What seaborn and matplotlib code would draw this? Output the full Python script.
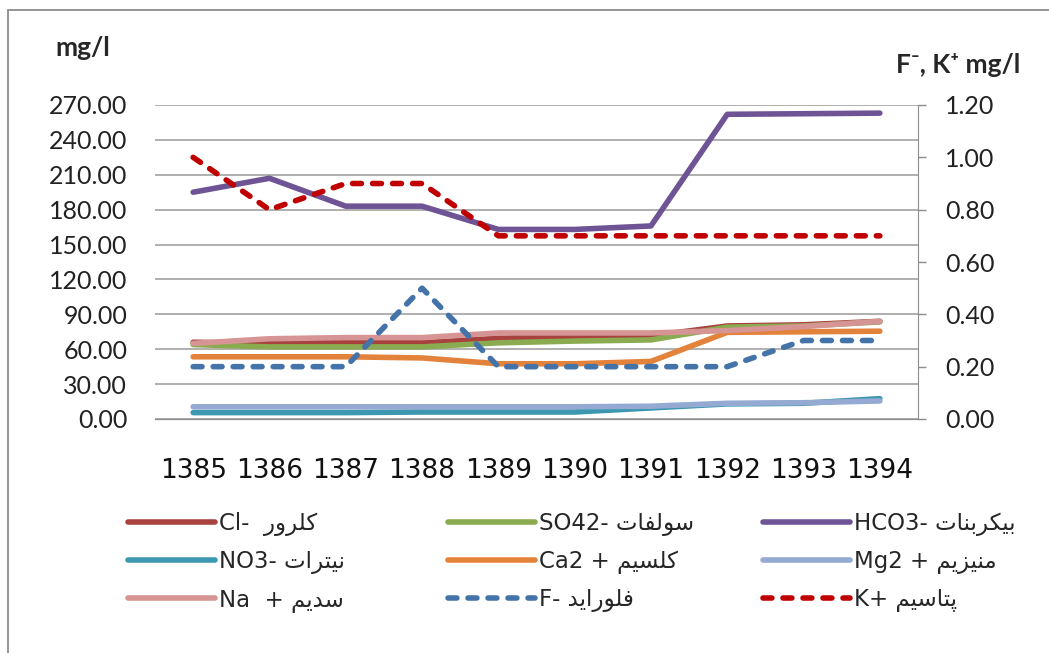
import matplotlib
matplotlib.use("Agg")
import matplotlib.pyplot as plt
from matplotlib.patches import Rectangle
import seaborn as sns

years = [1385, 1386, 1387, 1388, 1389, 1390, 1391, 1392, 1393, 1394]

# left axis (mg/l)
cl = [66, 65, 66, 65.5, 69.5, 71, 71.5, 80, 81, 84]
so4 = [64, 62, 62, 62, 65.5, 67, 68, 79, 80, 83.5]
hco3 = [195, 207, 183, 183, 163, 163, 166, 262, 262.5, 263]
no3 = [5.5, 5.5, 5.5, 6, 6, 6, 9.5, 13, 13.5, 17.5]
ca = [53.5, 53.5, 53.5, 52.5, 47.5, 47.5, 49.5, 74.5, 75, 75.5]
mg = [10.5, 10.5, 10.5, 10.5, 10.5, 10.5, 11, 13.5, 14, 15.5]
na = [65, 69, 70, 70, 74, 74, 74, 76, 79.5, 84]
# right axis (F-, K+ mg/l)
f_ion = [0.2, 0.2, 0.2, 0.5, 0.2, 0.2, 0.2, 0.2, 0.3, 0.3]
k_ion = [1.0, 0.8, 0.9, 0.9, 0.7, 0.7, 0.7, 0.7, 0.7, 0.7]

left_ticks = [0, 30, 60, 90, 120, 150, 180, 210, 240, 270]
right_ticks = [0, 0.2, 0.4, 0.6, 0.8, 1.0, 1.2]

# persian names (logical order), shaped by hand below since matplotlib has no bidi
names = {
    "cl": "کلرور", "so4": "سولفات", "hco3": "بیکربنات",
    "no3": "نیترات", "ca": "کلسیم", "mg": "منیزیم",
    "na": "سدیم", "f": "فلوراید", "k": "پتاسیم",
}

FORMS = {  # isolated, final, initial, medial
    "ا": ("\uFE8D", "\uFE8E", None, None),
    "ب": ("\uFE8F", "\uFE90", "\uFE91", "\uFE92"),
    "پ": ("\uFB56", "\uFB57", "\uFB58", "\uFB59"),
    "ت": ("\uFE95", "\uFE96", "\uFE97", "\uFE98"),
    "د": ("\uFEA9", "\uFEAA", None, None),
    "ر": ("\uFEAD", "\uFEAE", None, None),
    "ز": ("\uFEAF", "\uFEB0", None, None),
    "س": ("\uFEB1", "\uFEB2", "\uFEB3", "\uFEB4"),
    "ف": ("\uFED1", "\uFED2", "\uFED3", "\uFED4"),
    "ک": ("\uFB8E", "\uFB8F", "\uFB90", "\uFB91"),
    "ل": ("\uFEDD", "\uFEDE", "\uFEDF", "\uFEE0"),
    "م": ("\uFEE1", "\uFEE2", "\uFEE3", "\uFEE4"),
    "ن": ("\uFEE5", "\uFEE6", "\uFEE7", "\uFEE8"),
    "و": ("\uFEED", "\uFEEE", None, None),
    "ی": ("\uFBFC", "\uFBFD", "\uFBFE", "\uFBFF"),
}


def shape(word):
    out = []
    for i, ch in enumerate(word):
        iso, fin, ini, med = FORMS[ch]
        prev_j = i > 0 and FORMS[word[i - 1]][2] is not None
        next_j = i < len(word) - 1 and ini is not None
        if prev_j and next_j:
            out.append(med)
        elif prev_j:
            out.append(fin)
        elif next_j:
            out.append(ini)
        else:
            out.append(iso)
    return "".join(reversed(out))


labels = {
    "cl": "Cl-  " + shape(names["cl"]),
    "so4": "SO42- " + shape(names["so4"]),
    "hco3": "HCO3- " + shape(names["hco3"]),
    "no3": "NO3- " + shape(names["no3"]),
    "ca": "Ca2 + " + shape(names["ca"]),
    "mg": "Mg2 + " + shape(names["mg"]),
    "na": "Na  + " + shape(names["na"]),
    "f": "F- " + shape(names["f"]),
    "k": "K+ " + shape(names["k"]),
}

colors = {
    "cl": "#A8423F", "so4": "#8AAB4F", "hco3": "#6E5395",
    "no3": "#3C97B0", "ca": "#E3823A", "mg": "#94AAD2",
    "na": "#D69594", "f": "#4473A9", "k": "#C00000",
}

sns.set_style("white")
plt.rcParams["font.family"] = ["Lato", "DejaVu Sans"]

fig = plt.figure(figsize=(10.49, 6.53), dpi=100)
ax = fig.add_axes([155 / 1049, 1 - 419 / 653, (918 - 155) / 1049, (419 - 105) / 653])
ax2 = ax.twinx()

lw = 4.0
handles = {}
for key, vals in [("cl", cl), ("so4", so4), ("hco3", hco3), ("no3", no3),
                  ("ca", ca), ("mg", mg), ("na", na)]:
    sns.lineplot(x=years, y=vals, ax=ax, color=colors[key], lw=lw,
                 solid_capstyle="round")
    handles[key] = ax.lines[-1]
for key, vals in [("f", f_ion), ("k", k_ion)]:
    sns.lineplot(x=years, y=vals, ax=ax2, color=colors[key], lw=lw)
    ln = ax2.lines[-1]
    ln.set_linestyle((0, (1.6, 2.0)))
    ln.set_dash_capstyle("round")
    handles[key] = ln

ax.set_xlim(1384.5, 1394.5)
ax.set_ylim(0, 270)
ax2.set_ylim(0, 1.2)
ax.set_xticks(years)
ax.set_xticklabels([str(y) for y in years], family="Liberation Sans Narrow",
                   fontsize=19)
ax.set_yticks(left_ticks)
ax.set_yticklabels(["%.2f" % v for v in left_ticks], fontsize=18)
ax2.set_yticks(right_ticks)
ax2.set_yticklabels(["%.2f" % v for v in right_ticks], fontsize=18)
ax.set_xlabel("")
ax.set_ylabel("")
ax2.set_ylabel("")

ax.grid(axis="y", color="#9a9a9a", lw=1.1)
ax.grid(axis="x", visible=False)
ax.tick_params(axis="y", length=0, pad=20, labelcolor="#222222")
ax.tick_params(axis="x", length=0, pad=28, labelcolor="#111111")
ax2.tick_params(axis="y", length=5.8, width=1, color="#8c8c8c", pad=13.5,
                labelcolor="#222222", direction="out")
for a in (ax, ax2):
    for s in ("top", "left"):
        a.spines[s].set_visible(False)
    a.spines["bottom"].set_color("#8c8c8c")
    a.spines["right"].set_color("#8c8c8c")
ax.spines["right"].set_visible(False)
ax2.spines["right"].set_visible(True)

fig.text(55 / 1049, 1 - 48 / 653, "mg/l", fontsize=19, fontweight="bold",
         va="center", ha="left")
fig.text(1020 / 1049, 1 - 65 / 653, "F\u207B, K\u207A mg/l", fontsize=19,
         fontweight="bold", va="center", ha="right")

# legend: three columns placed where the reference has them
columns = [(128, ["cl", "no3", "na"]), (448, ["so4", "ca", "f"]),
           (763, ["hco3", "mg", "k"])]
for x0, keys in columns:
    fig.legend([handles[k] for k in keys], [labels[k] for k in keys],
               loc="upper left", bbox_to_anchor=(x0 / 1049, 1 - 512 / 653),
               frameon=False, handlelength=3.8, handletextpad=0.15,
               labelspacing=0.62, borderpad=0, borderaxespad=0,
               prop={"family": ["Liberation Sans Narrow", "DejaVu Sans"],
                     "size": 16.5})

fig.patches.append(Rectangle((8 / 1049, -0.1), 1.2, 1 - 10 / 653 + 0.1,
                             transform=fig.transFigure, fill=False,
                             ec="#8c8c8c", lw=1.3))

fig.savefig("out.png", dpi=100)
